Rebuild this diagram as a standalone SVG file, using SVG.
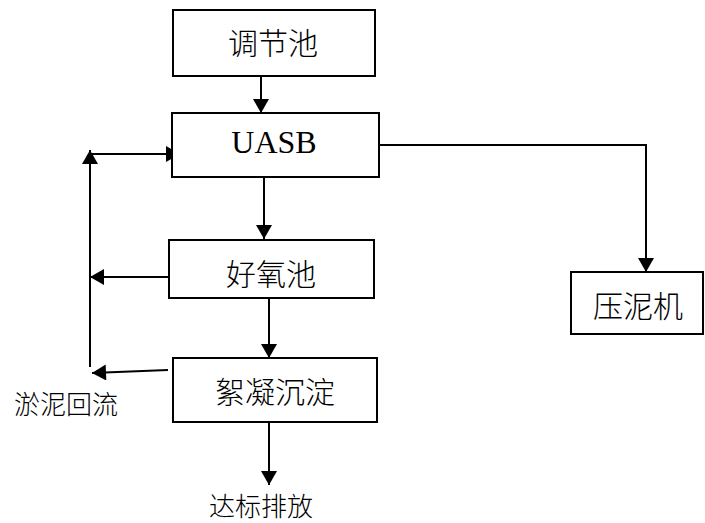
<svg xmlns="http://www.w3.org/2000/svg" width="705" height="523" viewBox="0 0 705 523">
<style>
.box{fill:#fff;stroke:#000;stroke-width:2}
.t{font-family:"Noto Sans CJK SC","Liberation Serif",serif;font-size:30px;font-weight:300;fill:#000;text-anchor:middle;dominant-baseline:central}
.lb{font-family:"Noto Sans CJK SC","Liberation Serif",serif;font-size:26px;font-weight:300;fill:#000;text-anchor:middle;dominant-baseline:central}
.en{font-family:"Liberation Serif","Times New Roman",serif;font-size:32px;fill:#000;text-anchor:middle}
.ln{fill:none;stroke:#000;stroke-width:2}
</style>
<defs>
<marker id="ah" markerUnits="userSpaceOnUse" markerWidth="15" markerHeight="16" viewBox="0 0 14 16" refX="14" refY="8" orient="auto">
<path d="M0,0 L14,8 L0,16 Z" fill="#000"/>
</marker>
</defs>
<g id="connectors">
<line class="ln" x1="261" y1="76" x2="261" y2="113" marker-end="url(#ah)"/>
<line class="ln" x1="264" y1="178" x2="264" y2="239" marker-end="url(#ah)"/>
<line class="ln" x1="269" y1="298" x2="269" y2="358" marker-end="url(#ah)"/>
<line class="ln" x1="269" y1="423" x2="269" y2="485" marker-end="url(#ah)"/>
<polyline class="ln" points="378,145 646,145 646,272" marker-end="url(#ah)"/>
<line class="ln" x1="169" y1="277" x2="90" y2="277" marker-end="url(#ah)"/>
<line class="ln" x1="168" y1="370" x2="92" y2="373" marker-end="url(#ah)"/>
<line class="ln" x1="90" y1="367" x2="90" y2="150" marker-end="url(#ah)"/>
<line class="ln" x1="90" y1="154" x2="180" y2="154" marker-end="url(#ah)"/>
</g>
<g id="node-tiaojiechi">
<rect class="box" x="173" y="10" width="202" height="66"/>
<text class="t" x="273" y="41">调节池</text>
</g>
<g id="node-uasb">
<rect class="box" x="172" y="113" width="207" height="64"/>
<text class="en" x="274" y="153">UASB</text>
</g>
<g id="node-haoyangchi">
<rect class="box" x="169" y="240" width="205" height="58"/>
<text class="t" x="271" y="272">好氧池</text>
</g>
<g id="node-xuningchendian">
<rect class="box" x="173" y="358" width="204" height="64"/>
<text class="t" x="275" y="390">絮凝沉淀</text>
</g>
<g id="node-yanniji">
<rect class="box" x="571" y="272" width="132" height="62"/>
<text class="t" x="638" y="304">压泥机</text>
</g>
<g id="label-yunihuiliu">
<text class="lb" x="66" y="402">淤泥回流</text>
</g>
<g id="label-dabiaopaifang">
<text class="lb" x="261" y="504">达标排放</text>
</g>
</svg>
